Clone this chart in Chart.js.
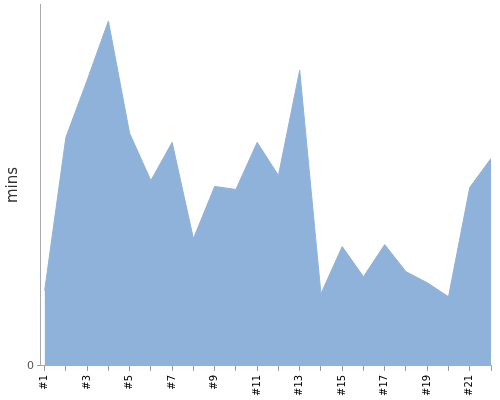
<!DOCTYPE html>
<html>
<head>
<meta charset="utf-8">
<script src="https://cdn.jsdelivr.net/npm/chart.js@4/dist/chart.umd.min.js"></script>
<style>
  body { margin: 0; background: #fff; }
  #wrap { width: 500px; height: 400px; }
</style>
</head>
<body>
<div id="wrap"><canvas id="myChart"></canvas></div>
<script>
// game numbers and minutes played
var games = ['#1','#2','#3','#4','#5','#6','#7','#8','#9','#10','#11',
             '#12','#13','#14','#15','#16','#17','#18','#19','#20','#21','#22'];
var mins = [75, 228, 285, 344, 232, 185, 223, 127, 179, 176, 223,
            190, 295, 72, 119, 89, 121, 94, 83, 69, 178, 207];
var yTicks = [0];

var points = mins.map((v, i) => ({ x: i + 1, y: v }));

const ctx = document.getElementById('myChart').getContext('2d');
var myChart = new Chart(ctx, {
    type: 'line',
    data: {
        datasets: [{
            label: 'mins',
            data: points,
            backgroundColor: '#8fb2da',
            borderColor: '#8fb2da',
            borderWidth: 1,
            fill: 'origin',
            pointRadius: 0,
            tension: 0
        }]
    },
    options: {
        responsive: true,
        maintainAspectRatio: false,
        animation: false,
        layout: { padding: { top: 4, right: 9, left: 0, bottom: 0 } },
        plugins: {
            legend: { display: false },
            tooltip: { enabled: false }
        },
        scales: {
            x: {
                type: 'linear',
                min: 0.83,
                max: games.length,
                border: { color: '#aaa' },
                grid: { drawOnChartArea: false, tickLength: 5, color: '#999' },
                afterFit: function(axis) { axis.paddingRight = 0; },
                ticks: {
                    stepSize: 1,
                    includeBounds: false,
                    autoSkip: false,
                    maxRotation: 90,
                    minRotation: 90,
                    padding: 4,
                    color: '#000',
                    font: { family: 'DejaVu Sans', size: 10 },
                    callback: function(v) {
                        if (!Number.isInteger(v)) return null;
                        return (v % 2 == 1) ? games[v - 1] : ' ';
                    }
                }
            },
            y: {
                min: 0,
                max: 361,
                border: { color: '#aaa' },
                grid: { drawOnChartArea: false, tickLength: 4, color: '#999' },
                afterBuildTicks: function(axis) {
                    axis.ticks = yTicks.map(v => ({ value: v }));
                },
                afterFit: function(axis) { axis.paddingTop = 0; },
                ticks: {
                    color: '#555',
                    font: { family: 'DejaVu Sans', size: 11 }
                },
                title: {
                    display: true,
                    text: 'mins',
                    color: '#333',
                    padding: { top: 4, bottom: 2 },
                    font: { family: 'DejaVu Sans', size: 15 }
                }
            }
        }
    }
});
</script>
</body>
</html>
